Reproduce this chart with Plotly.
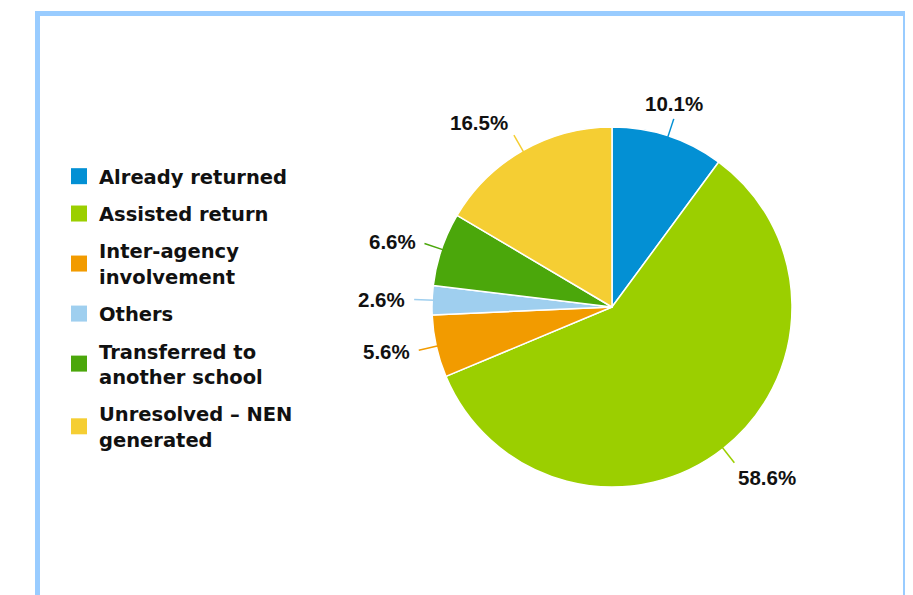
import math
import plotly.graph_objects as go

# ---- data ----
categories = ["Already returned", "Assisted return", "Inter-agency involvement",
              "Others", "Transferred to another school", "Unresolved – NEN generated"]
legend_labels = ["Already returned", "Assisted return", "Inter-agency<br>involvement",
                 "Others", "Transferred to<br>another school", "Unresolved – NEN<br>generated"]
values = [10.1, 58.6, 5.6, 2.6, 6.6, 16.5]
colors = ["#0390D4", "#9BCF00", "#F29B00", "#9FCFEF", "#4BA70B", "#F5CE33"]

# ---- layout geometry (page body has an 8px margin) ----
OFF = 8
W, H = 913 - OFF, 595 - OFF
cx, cy, R = 612 - OFF, 307 - OFF, 180

fig = go.Figure()
fig.add_trace(go.Pie(
    labels=categories, values=values, sort=False, direction="clockwise", rotation=0,
    marker=dict(colors=colors, line=dict(color="white", width=1.5)),
    textinfo="none", showlegend=False, hoverinfo="label+percent",
    domain=dict(x=[(cx - R) / W, (cx + R) / W], y=[1 - (cy + R) / H, 1 - (cy - R) / H]),
))

# legend via marker-only traces (one group each for spacing)
for i, (lab, col) in enumerate(zip(legend_labels, colors)):
    fig.add_trace(go.Scatter(
        x=[None], y=[None], mode="markers", name=lab, legendgroup=f"g{i}",
        marker=dict(symbol="square", size=17, color=col), showlegend=True,
    ))

total = sum(values)
shapes = []
annotations = []
cum = 0.0
for v, col in zip(values, colors):
    mid = (cum + v / 2) / total * 2 * math.pi
    cum += v
    s, c = math.sin(mid), math.cos(mid)
    x0, y0 = cx + (R - 2) * s, cy - (R - 2) * c
    x1, y1 = cx + (R + 18) * s, cy - (R + 18) * c
    shapes.append(dict(type="line", xref="paper", yref="paper",
                       x0=x0 / W, y0=1 - y0 / H, x1=x1 / W, y1=1 - y1 / H,
                       line=dict(color=col, width=1.5)))
    if abs(s) < 0.4:
        xa, gap = "center", 20
    elif s > 0:
        xa, gap = "left", 20
    else:
        xa, gap = "right", 25
    if c > 0.9:
        ya = "bottom"
    elif c < -0.7:
        ya = "top"
    else:
        ya = "middle"
    yshift = 6 if (ya == "middle" and c > 0.8) else 0
    lx, ly = cx + (R + gap) * s, cy - (R + gap) * c
    annotations.append(dict(
        x=lx / W, y=1 - ly / H, xref="paper", yref="paper", showarrow=False,
        text=f"{v / total * 100:.1f}%", xanchor=xa, yanchor=ya, yshift=yshift,
        font=dict(family="Liberation Sans", size=20.5, color="#111111", weight="bold"),
    ))

# outer frame
shapes.append(dict(type="rect", xref="paper", yref="paper",
                   x0=(37.5 - OFF) / W, x1=(905.5 - OFF) / W, y0=-0.2, y1=1 - (13.5 - OFF) / H,
                   line=dict(color="#99CCFF", width=5), fillcolor="rgba(0,0,0,0)"))

fig.update_layout(
    width=W, height=H, margin=dict(l=0, r=0, t=0, b=0),
    paper_bgcolor="white", plot_bgcolor="white",
    xaxis=dict(visible=False, domain=[0, 0.01]), yaxis=dict(visible=False, domain=[0, 0.01]),
    shapes=shapes, annotations=annotations,
    legend=dict(x=(59 - OFF) / W, y=1 - (157 - OFF) / H, xanchor="left", yanchor="top",
                font=dict(family="DejaVu Sans", size=19.5, color="#111111", weight="bold"),
                tracegroupgap=9, bgcolor="rgba(0,0,0,0)", itemsizing="trace"),
)

fig.write_html("out.html")
